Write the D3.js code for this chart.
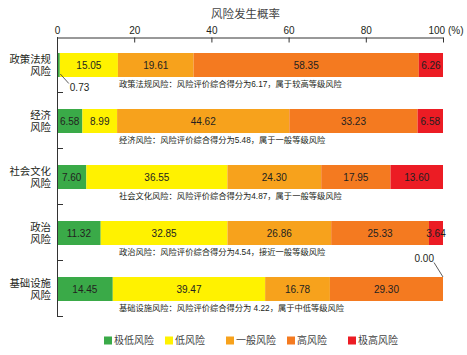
<!DOCTYPE html>
<html>
<head>
<meta charset="utf-8">
<script src="https://cdn.jsdelivr.net/npm/d3@7"></script>
<style>
  html, body { margin: 0; padding: 0; background: #fff; }
  svg { display: block; font-family: "Liberation Sans", Arial, "Noto Sans CJK SC", sans-serif; }
</style>
</head>
<body>
<svg id="chart" width="467" height="355"></svg>
<script>
// ---- data ----
const categories = ["政策法规风险", "经济风险", "社会文化风险", "政治风险", "基础设施风险"];
const categoryLines = [["政策法规", "风险"], ["经济", "风险"], ["社会文化", "风险"], ["政治", "风险"], ["基础设施", "风险"]];
const levels = ["极低风险", "低风险", "一般风险", "高风险", "极高风险"];
const veryLow  = [0.73, 6.58, 7.60, 11.32, 14.45];
const low      = [15.05, 8.99, 36.55, 32.85, 39.47];
const medium   = [19.61, 44.62, 24.30, 26.86, 16.78];
const high     = [58.35, 33.23, 17.95, 25.33, 29.30];
const veryHigh = [6.26, 6.58, 13.60, 3.64, 0.00];
const notes = [
  "政策法规风险：风险评价综合得分为6.17，属于较高等级风险",
  "经济风险：风险评价综合得分为5.48，属于一般等级风险",
  "社会文化风险：风险评价综合得分为4.87，属于一般等级风险",
  "政治风险：风险评价综合得分为4.54，接近一般等级风险",
  "基础设施风险：风险评价综合得分为 4.22，属于中低等级风险"
];
const xTicks = [0, 20, 40, 60, 80, 100];
const axisTitle = "风险发生概率";

const colors = ["#3aaa48", "#fff200", "#f7a21c", "#f47a20", "#ec1c24"];
const textColor = "#231f20";

const series = [veryLow, low, medium, high, veryHigh];
const rows = categories.map((c, i) => {
  const o = { cat: c };
  levels.forEach((l, j) => o[l] = series[j][i]);
  return o;
});
const stacked = d3.stack().keys(levels)(rows);

const svg = d3.select("#chart");
const x = d3.scaleLinear().domain([0, 100]).range([57, 443]);
const y = d3.scaleBand().domain(categories).range([37, 317]);
const barOff = 16, barH = 24;
const color = d3.scaleOrdinal().domain(levels).range(colors);

// title
svg.append("text").attr("x", 245.5).attr("y", 14).attr("text-anchor", "middle")
  .attr("dominant-baseline", "central").attr("font-size", 11.5).attr("fill", "#444")
  .text(axisTitle);

// bars
const layer = svg.append("g").selectAll("g").data(stacked).join("g").attr("fill", d => color(d.key));
layer.selectAll("rect").data(d => d).join("rect")
  .attr("x", d => x(d[0]))
  .attr("y", d => y(d.data.cat) + barOff)
  .attr("width", d => x(d[1]) - x(d[0]))
  .attr("height", barH);

// value labels
stacked.forEach(s => {
  s.forEach((d, i) => {
    const v = d.data[s.key];
    const top = y(d.data.cat) + barOff;
    const g = svg.append("g");
    if (v >= 1) {
      g.append("text").attr("x", x((d[0] + d[1]) / 2)).attr("y", top + barH / 2)
        .attr("text-anchor", "middle").attr("dominant-baseline", "central")
        .attr("font-size", 10).attr("fill", textColor).text(v.toFixed(2));
    } else if (d[0] < 50) {
      const sx = x(d[1]) + 0.5, sy = top + barH - 3;
      const ex = sx + 8.5, ey = sy + 9.5;
      g.append("line").attr("x1", sx).attr("y1", sy).attr("x2", ex).attr("y2", ey)
        .attr("stroke", "#333").attr("stroke-width", 0.8);
      g.append("text").attr("x", ex + 1).attr("y", ey + 4).attr("dominant-baseline", "central")
        .attr("font-size", 10).attr("fill", textColor).text(v.toFixed(2));
    } else {
      const sx = x(d[1]), sy = top;
      const ex = sx - 9, ey = sy - 14.5;
      g.append("line").attr("x1", sx).attr("y1", sy).attr("x2", ex).attr("y2", ey)
        .attr("stroke", "#333").attr("stroke-width", 0.8);
      g.append("text").attr("x", ex).attr("y", ey - 4).attr("text-anchor", "end")
        .attr("dominant-baseline", "central")
        .attr("font-size", 10).attr("fill", textColor).text(v.toFixed(2));
    }
  });
});

// notes (font size tuned so the first note spans ~223px as in the reference)
const noteG = svg.append("g");
const noteTexts = noteG.selectAll("text").data(categories).join("text")
  .attr("x", 119).attr("y", (c) => y(c) + 47.5)
  .attr("dominant-baseline", "central").attr("font-size", 8.3).attr("fill", textColor)
  .text((c, i) => notes[i]);
const w0 = noteTexts.node().getComputedTextLength();
if (w0 > 0) {
  const fs = Math.max(7.5, Math.min(9.5, 8.3 * 223 / w0));
  noteTexts.attr("font-size", fs);
}

// x axis (top)
const xAxis = d3.axisTop(x).tickValues(xTicks).tickSize(-5).tickSizeOuter(0).tickPadding(4)
  .tickFormat(d => d);
const gx = svg.append("g").attr("transform", "translate(0,37.5)").call(xAxis);
gx.select(".domain").attr("stroke", "#333");
gx.selectAll(".tick line").attr("stroke", "#333");
gx.selectAll(".tick text").attr("font-size", 10).attr("fill", textColor)
  .attr("font-family", "Liberation Sans, Arial, sans-serif");
gx.selectAll(".tick text").filter(d => d === 100).text("100 (%)")
  .attr("text-anchor", "start").attr("dx", -15);

// y axis (left line with inward ticks at band boundaries)
const gy = svg.append("g");
gy.append("line").attr("x1", x(0) + 0.5).attr("x2", x(0) + 0.5)
  .attr("y1", y.range()[0]).attr("y2", y.range()[1]).attr("stroke", "#333");
gy.selectAll("line.tk").data(categories).join("line").attr("class", "tk")
  .attr("x1", x(0)).attr("x2", x(0) + 6)
  .attr("y1", c => y(c) + y.step() - 0.5).attr("y2", c => y(c) + y.step() - 0.5)
  .attr("stroke", "#333");

// category labels
categories.forEach((c, i) => {
  const cy = y(c) + barOff + barH / 2;
  const t = svg.append("text").attr("text-anchor", "end").attr("font-size", 10.4).attr("fill", textColor);
  categoryLines[i].forEach((line, k) => {
    t.append("tspan").attr("x", 51).attr("y", cy - 6 + k * 12).attr("dominant-baseline", "central").text(line);
  });
});

// legend
const legend = svg.append("g").selectAll("g").data(levels).join("g")
  .attr("transform", (d, i) => `translate(${104 + i * 61},336.5)`);
legend.append("rect").attr("width", 8).attr("height", 8).attr("fill", d => color(d));
legend.append("text").attr("x", 10).attr("y", 4).attr("dominant-baseline", "central")
  .attr("font-size", 10).attr("fill", "#444").text(d => d);
</script>
</body>
</html>
